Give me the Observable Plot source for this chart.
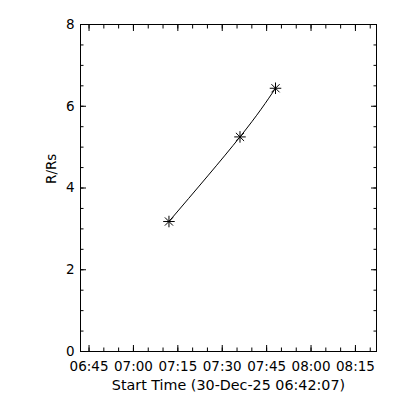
<!DOCTYPE html>
<html><head><meta charset="utf-8">
<script src="https://cdn.jsdelivr.net/npm/d3@7"></script>
<script src="https://cdn.jsdelivr.net/npm/@observablehq/plot@0.6"></script>
<style>body{margin:0;background:#fff;}</style>
</head><body><div id="chart"></div>
<script>
// data
const day = "2025-12-30";
const startTime = "06:42:07";
const endTime = "08:22:07";
const obsTimes = ["07:12:00", "07:36:00", "07:48:00"];
const heights = [3.18, 5.25, 6.44];
const xTickLabels = ["06:45", "07:00", "07:15", "07:30", "07:45", "08:00", "08:15"];
const xMinorStep = 5; // minutes
const yTickLabels = [0, 2, 4, 6, 8];
const yMinorStep = 0.5;
const xTitle = "Start Time (30-Dec-25 06:42:07)";
const yTitle = "R/Rs";

const toDate = t => new Date(`${day}T${t.length === 5 ? t + ":00" : t}Z`);
const rows = obsTimes.map((t, i) => ({time: toDate(t), h: heights[i]}));
const xMajor = xTickLabels.map(toDate);
const xMinor = d3.utcMinute.every(xMinorStep).range(toDate("06:45"), toDate(endTime));
const yMinor = d3.range(0, 8 + 1e-9, yMinorStep);
const blank = () => "";
const FS = 13.5;
const TS = 14.3;

const chart = Plot.plot({
  width: 400, height: 400,
  marginLeft: 80, marginRight: 24, marginTop: 24, marginBottom: 49,
  style: {fontFamily: "DejaVu Sans", fontSize: FS + "px", color: "black", background: "white"},
  x: {type: "utc", domain: [toDate(startTime), toDate(endTime)]},
  y: {domain: [0, 8]},
  marks: [
    Plot.frame({stroke: "black"}),
    // minor ticks (inward)
    Plot.axisX(xMinor, {anchor: "bottom", tickSize: -3.5, tickFormat: blank, label: null}),
    Plot.axisX(xMinor, {anchor: "top", tickSize: -3.5, tickFormat: blank, label: null}),
    Plot.axisY(yMinor, {anchor: "left", tickSize: -3.5, tickFormat: blank, label: null}),
    Plot.axisY(yMinor, {anchor: "right", tickSize: -3.5, tickFormat: blank, label: null}),
    // major ticks (inward)
    Plot.axisX(xMajor, {anchor: "bottom", tickSize: -6, tickFormat: blank, label: null}),
    Plot.axisX(xMajor, {anchor: "top", tickSize: -6, tickFormat: blank, label: null}),
    Plot.axisY(yTickLabels, {anchor: "left", tickSize: -6, tickFormat: blank, label: null}),
    Plot.axisY(yTickLabels, {anchor: "right", tickSize: -6, tickFormat: blank, label: null}),
    // tick labels
    Plot.axisX(xMajor, {anchor: "bottom", tickSize: 0, tickPadding: 10, fontSize: FS, tickFormat: d3.utcFormat("%H:%M"), label: null}),
    Plot.axisY(yTickLabels, {anchor: "left", tickSize: 0, tickPadding: 6, fontSize: FS, tickFormat: d => String(d), label: null}),
    // titles
    Plot.text([xTitle], {frameAnchor: "bottom", text: d => d, fontSize: TS, dy: 38, lineAnchor: "bottom"}),
    Plot.text([yTitle], {frameAnchor: "left", text: d => d, fontSize: FS, dx: -29, dy: -4, rotate: -90}),
    // data
    Plot.line(rows, {x: "time", y: "h", curve: "natural", stroke: "black", strokeWidth: 1}),
    Plot.dot(rows, {x: "time", y: "h", symbol: "plus", r: 3.8, stroke: "black", strokeWidth: 1}),
    Plot.dot(rows, {x: "time", y: "h", symbol: "times", r: 3.8, stroke: "black", strokeWidth: 1})
  ]
});
document.getElementById("chart").append(chart);
</script>
</body></html>
